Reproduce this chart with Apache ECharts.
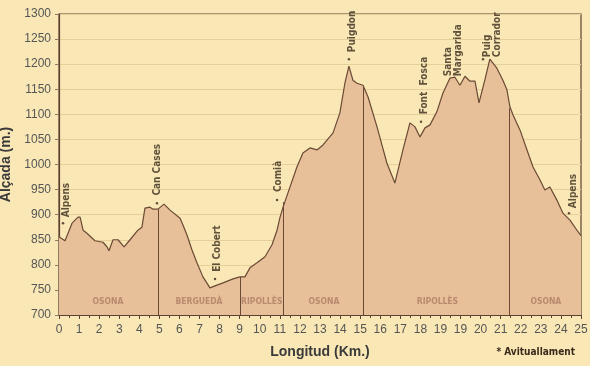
<!DOCTYPE html>
<html>
<head>
<meta charset="utf-8">
<script src="https://cdn.jsdelivr.net/npm/echarts@6/dist/echarts.min.js"></script>
<style>
html,body{margin:0;padding:0;background:#f9e8b6;}
#c{width:590px;height:366px;}
</style>
</head>
<body>
<div id="c"></div>
<script>
// X-axis tick labels (as printed, note the repeated 19)
const tickLabels = ['0','1','2','3','4','5','6','7','8','9','10','11','12','13','14','15','16','17','18','19','19','20','21','22','23','24','25'];

// Elevation profile (axis position, altitude m)
const profileKm = [0,0.30,0.65,0.95,1.05,1.20,1.39,1.79,2.19,2.39,2.49,2.69,2.94,3.24,3.54,3.93,4.13,4.28,4.53,4.68,4.93,5.23,5.53,6.03,6.18,6.37,6.62,6.87,7.17,7.52,7.77,8.17,8.67,9.01,9.26,9.51,9.86,10.26,10.61,10.86,11.01,11.16,11.40,11.85,12.15,12.50,12.85,13.15,13.65,13.99,14.24,14.44,14.64,14.84,15.14,15.39,15.84,15.99,16.33,16.73,17.13,17.48,17.73,17.98,18.23,18.48,18.82,19.12,19.47,19.72,19.97,20.22,20.47,20.72,20.92,21.22,21.46,21.81,22.11,22.31,22.46,22.61,22.96,23.31,23.61,23.96,24.20,24.45,24.80,25.10,25.45,25.85,26.00];
const profileAlt = [856,848,883,895,895,869,863,848,845,836,828,850,850,836,850,869,875,913,915,911,911,921,909,893,879,860,830,804,776,754,758,764,772,776,776,794,804,816,840,869,895,915,943,995,1023,1033,1029,1039,1063,1103,1162,1196,1168,1162,1158,1135,1075,1053,1003,963,1029,1083,1075,1055,1073,1079,1105,1142,1172,1174,1158,1176,1166,1166,1123,1170,1210,1192,1168,1149,1115,1099,1069,1029,995,969,949,955,929,903,889,866,858];

// Region dividers
const dividerKm  = [4.93, 9.01, 11.17, 15.16, 22.45];
const dividerTop = [911, 776, 925, 1157, 1112];

// Region names
const regionNames = ['OSONA','BERGUEDÀ','RIPOLLÈS','OSONA','RIPOLLÈS','OSONA'];
const regionKm    = [2.44, 6.97, 10.1, 13.2, 18.85, 24.25];
const regionAlt   = [726, 726, 726, 726, 726, 726];

// Waypoint names (label base positions)
const placeNames = ['Alpens','Can Cases','El Cobert','Comià','Puigdon','Font  Fosca','Santa\nMargarida','Puig\nCorrador','Alpens'];
const placeKm    = [0.37, 4.92, 7.88, 10.95, 14.6, 18.2, 19.62, 21.58, 25.62];
const placeAlt   = [895, 938, 786, 945, 1224, 1100, 1176, 1214, 913];

// Supply points (dots)
const supplyKm  = [0.2, 4.88, 7.77, 10.86, 14.44, 18.03, 21.12, 25.4];
const supplyAlt = [883, 923, 772, 929, 1210, 1085, 1210, 903];

const chart = echarts.init(document.getElementById('c'));
const narrow = '"Liberation Sans Narrow","DejaVu Sans Condensed","Arial Narrow",sans-serif';
const dark = '#5b4131';

chart.setOption({
  backgroundColor: '#f9e8b6',
  animation: false,
  title: {
    text: '* Avituallament',
    right: 10, bottom: 4,
    textStyle: {fontFamily: narrow, fontWeight: 'bold', fontSize: 10, color: '#3a2a1c'}
  },
  grid: {left: 59, right: 9, top: 14, bottom: 51, containLabel: false, outerBoundsMode: 'none',
    show: true, borderColor: dark, borderWidth: 1.2, backgroundColor: 'transparent'},
  xAxis: {
    type: 'value', min: 0, max: 26, interval: 1,
    name: 'Longitud (Km.)', nameLocation: 'middle', nameGap: 30,
    nameTextStyle: {fontFamily: 'Liberation Sans, Arial, sans-serif', fontWeight: 'bold', fontSize: 14, color: '#3a3a3a'},
    axisLine: {show: true, lineStyle: {color: dark, width: 1.2}},
    axisTick: {show: true, length: 4, lineStyle: {color: dark}},
    minorTick: {show: true, splitNumber: 2, length: 3, lineStyle: {color: dark}},
    axisLabel: {margin: 9, fontSize: 12, color: '#555', fontFamily: 'Liberation Sans, Arial, sans-serif',
      formatter: v => tickLabels[Math.round(v)] ?? ''},
    splitLine: {show: false}
  },
  yAxis: {
    type: 'value', min: 700, max: 1300, interval: 50,
    name: 'Alçada (m.)', nameLocation: 'middle', nameGap: 35,
    nameTextStyle: {fontFamily: 'Liberation Sans, Arial, sans-serif', fontWeight: 'bold', fontSize: 14, color: '#3a3a3a'},
    axisLine: {show: true, lineStyle: {color: dark, width: 1.2}},
    axisTick: {show: true, length: 4, lineStyle: {color: '#8a7a60'}},
    axisLabel: {margin: 8, fontSize: 12, color: '#555', fontFamily: 'Liberation Sans, Arial, sans-serif',
      formatter: v => String(v)},
    splitLine: {show: true, lineStyle: {color: '#e6cf98', width: 1}}
  },
  series: [
    {
      type: 'line',
      data: profileKm.map((k, i) => [k, profileAlt[i]]),
      symbol: 'none',
      lineStyle: {color: '#6a4a34', width: 1.2},
      areaStyle: {color: '#e7bf99', opacity: 1, origin: 'start'},
      z: 2,
      markLine: {
        silent: true, symbol: 'none', label: {show: false},
        lineStyle: {color: '#6a4a34', width: 1, type: 'solid'},
        data: dividerKm.map((k, i) => [{coord: [k, 700]}, {coord: [k, dividerTop[i]]}])
      }
    },
    {
      type: 'scatter',
      data: regionKm.map((k, i) => [k, regionAlt[i], regionNames[i]]),
      symbolSize: 0,
      z: 4,
      label: {show: true, position: 'inside', formatter: p => p.data[2],
        fontFamily: narrow, fontWeight: 'bold', fontSize: 8.5, color: '#ad7d64'}
    },
    {
      type: 'scatter',
      data: placeKm.map((k, i) => [k, placeAlt[i], placeNames[i]]),
      symbolSize: 0,
      z: 5,
      label: {show: true, position: [0, 0], rotate: 90, align: 'left', verticalAlign: 'middle',
        formatter: p => p.data[2], lineHeight: 10,
        fontFamily: narrow, fontWeight: 'bold', fontSize: 10, color: '#3a2a1c'}
    },
    {
      type: 'scatter',
      data: supplyKm.map((k, i) => [k, supplyAlt[i]]),
      symbol: 'circle', symbolSize: 2.5,
      itemStyle: {color: '#3a2a1c'},
      z: 5
    }
  ]
});
</script>
</body>
</html>
